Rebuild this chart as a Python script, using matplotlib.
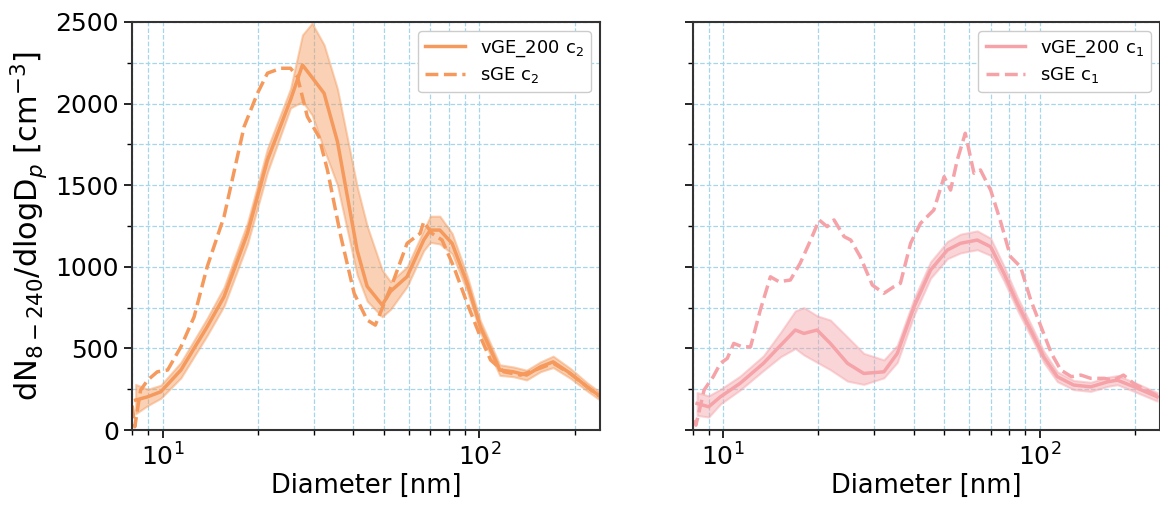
import numpy as np
import matplotlib.pyplot as plt
from matplotlib.ticker import MultipleLocator, LogLocator, NullFormatter

# --- left panel: c2 ---
d_v2 = [8.2, 8.95, 9.85, 11.4, 13.8, 15.6, 18.5, 21.4, 25.3, 27.6, 29.6, 32.3, 35.6, 41.1, 44.2,
        49.3, 52.4, 59.1, 66.7, 70.0, 75.0, 82.0, 91.5, 100.7, 116, 128, 141, 156, 171, 194, 219, 238]
v2_mean = [184, 204, 235, 368, 633, 817, 1205, 1654, 2022, 2236, 2160, 2063, 1767, 1100, 880,
           766, 850, 940, 1164, 1225, 1225, 1144, 899, 633, 368, 357, 337, 388, 418, 347, 265, 214]
v2_low = [100, 150, 195, 320, 580, 760, 1140, 1580, 1973, 2012, 1930, 1720, 1500, 950, 790,
          694, 740, 880, 1100, 1150, 1140, 1080, 850, 595, 335, 327, 307, 358, 383, 317, 240, 190]
v2_high = [280, 250, 275, 415, 685, 875, 1270, 1725, 2090, 2420, 2492, 2360, 2090, 1490, 1250,
           980, 909, 1000, 1225, 1310, 1310, 1205, 945, 670, 400, 387, 367, 418, 453, 377, 290, 238]

d_s2 = [8.0, 8.15, 8.3, 8.5, 8.95, 9.6, 10.35, 11.4, 12.55, 13.8, 15.6, 18.05, 19.9, 21.4, 23.6,
        25.3, 26.6, 28.6, 31.1, 33.1, 36.5, 40.2, 44.2, 46.9, 53.6, 59.1, 65.0, 66.7, 70.8, 76.2,
        83.0, 91.5, 100.7, 108.5, 119.5, 135, 156, 171, 194, 219, 238]
s2 = [150, 20, 120, 245, 306, 357, 368, 510, 694, 1000, 1307, 1858, 2063, 2186, 2216,
      2216, 2165, 1920, 1797, 1593, 1185, 838, 674, 643, 919, 1144, 1205, 1276, 1205, 1164,
      1000, 776, 572, 429, 357, 337, 380, 410, 345, 265, 210]

# --- right panel: c1 ---
d_v1 = [8.27, 9.0, 9.8, 11.3, 13.4, 15.2, 16.9, 18.0, 19.8, 21.8, 24.7, 27.8, 32.2, 35.5, 40.1,
        45.2, 51.1, 56.2, 63.5, 70.0, 77.1, 85.0, 93.7, 103, 113.7, 128, 145, 164, 176, 199, 235]
v1_mean = [163, 143, 204, 286, 409, 520, 613, 592, 613, 531, 409, 347, 357, 470, 756,
           980, 1103, 1144, 1164, 1123, 960, 776, 613, 449, 327, 276, 265, 296, 306, 265, 204]
v1_low = [90, 80, 160, 245, 365, 450, 500, 460, 415, 370, 300, 280, 320, 415, 705,
          930, 1050, 1085, 1105, 1070, 915, 735, 575, 415, 297, 248, 237, 268, 278, 237, 178]
v1_high = [230, 210, 250, 330, 455, 600, 730, 750, 700, 674, 570, 470, 430, 520, 805,
           1030, 1155, 1200, 1220, 1175, 1005, 815, 650, 483, 357, 304, 293, 324, 334, 293, 230]

d_s1 = [8.1, 8.2, 8.7, 9.3, 9.8, 10.3, 10.8, 11.5, 12.2, 13.1, 14.1, 15.0, 16.3, 17.5, 18.9,
        20.1, 21.3, 22.4, 24.1, 25.3, 27.1, 29.6, 32.2, 34.6, 36.3, 39.1, 42.0, 46.3, 49.9, 52.3,
        54.9, 58.2, 62.0, 65.0, 70.0, 75.0, 80.9, 87.0, 93.7, 101, 108.9, 116.6, 126, 135, 145,
        160, 171, 184, 200, 215, 235]
s1 = [60, 30, 245, 327, 409, 439, 531, 510, 510, 735, 939, 909, 919, 1021, 1164,
      1287, 1246, 1287, 1185, 1164, 1062, 888, 838, 878, 899, 1144, 1266, 1348, 1552, 1470,
      1654, 1818, 1573, 1593, 1470, 1287, 1062, 1000, 797, 633, 470, 368, 327, 337, 317,
      317, 306, 337, 280, 250, 210]

orange = '#f59a5c'
pink = '#f5a3a9'

fig, axes = plt.subplots(1, 2, figsize=(11.6, 5.09), dpi=100, sharey=True)
axes[0].set_position([0.114, 0.155, 0.403, 0.802])
axes[1].set_position([0.597, 0.155, 0.403, 0.802])

panels = [
    (axes[0], d_v2, v2_mean, v2_low, v2_high, d_s2, s2, orange, 'c$_2$'),
    (axes[1], d_v1, v1_mean, v1_low, v1_high, d_s1, s1, pink, 'c$_1$'),
]

for ax, dv, vm, vlo, vhi, ds, sv, col, lab in panels:
    ax.fill_between(dv, vlo, vhi, color=col, alpha=0.45, linewidth=1.5)
    ax.plot(dv, vm, color=col, lw=2.5, label='vGE_200 ' + lab)
    ax.plot(ds, sv, color=col, lw=2.5, ls='--', label='sGE ' + lab)

    ax.set_xscale('log')
    ax.set_xlim(8, 240)
    ax.set_ylim(0, 2500)
    ax.yaxis.set_major_locator(MultipleLocator(500))
    ax.yaxis.set_minor_locator(MultipleLocator(250))
    ax.xaxis.set_minor_locator(LogLocator(base=10, subs=np.arange(2, 10)))
    ax.xaxis.set_minor_formatter(NullFormatter())
    ax.grid(True, which='both', color='#a6d6ea', ls='--', lw=0.9)
    ax.set_axisbelow(True)
    ax.tick_params(axis='both', which='major', labelsize=18, length=6, width=1.2)
    ax.tick_params(axis='both', which='minor', length=3.5, width=1)
    for sp in ax.spines.values():
        sp.set_color('#333333')
        sp.set_linewidth(1.5)
    ax.set_xlabel('Diameter [nm]', fontsize=18.5, labelpad=2)
    ax.legend(loc='upper right', fontsize=13, framealpha=1, edgecolor='#cccccc',
              handlelength=2.2, labelspacing=0.35)

axes[1].tick_params(axis='y', labelleft=False)
axes[0].set_ylabel('dN$_{8-240}$/dlogD$_p$ [cm$^{-3}$]', fontsize=22, labelpad=4)

fig.savefig('out.png', dpi=100)
